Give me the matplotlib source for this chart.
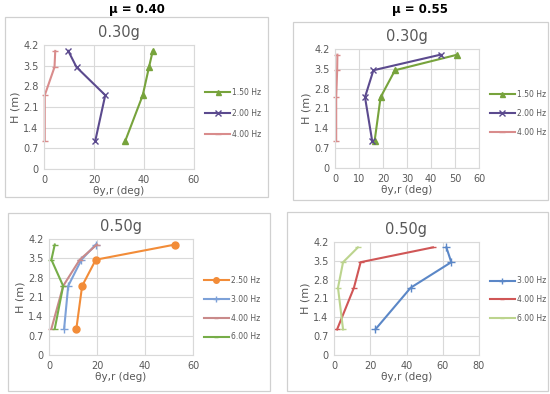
import matplotlib.pyplot as plt
from matplotlib.patches import Rectangle

plt.rcParams['font.family'] = ['DejaVu Sans']

heights = [0.95, 2.5, 3.45, 4.0]
yticks = [0, 0.7, 1.4, 2.1, 2.8, 3.5, 4.2]

# mu = 0.40, 0.30g
tl_labels = ['1.50 Hz', '2.00 Hz', '4.00 Hz']
tl_150 = [32.5, 39.5, 42.0, 43.5]
tl_200 = [20.5, 24.5, 13.0, 9.7]
tl_400 = [0.3, 0.3, 4.2, 4.5]

# mu = 0.55, 0.30g
tr_labels = ['1.50 Hz', '2.00 Hz', '4.00 Hz']
tr_150 = [16.5, 19.0, 25.0, 51.0]
tr_200 = [15.5, 12.5, 16.0, 44.0]
tr_400 = [0.5, 0.5, 0.9, 1.0]

# mu = 0.40, 0.50g
bl_labels = ['2.50 Hz', '3.00 Hz', '4.00 Hz', '6.00 Hz']
bl_250 = [11.4, 13.8, 19.5, 52.6]
bl_300 = [6.3, 8.0, 13.5, 19.5]
bl_400 = [1.0, 5.9, 12.8, 20.0]
bl_600 = [2.4, 5.9, 1.0, 2.4]

# mu = 0.55, 0.50g
br_labels = ['3.00 Hz', '4.00 Hz', '6.00 Hz']
br_300 = [22.8, 42.3, 64.7, 62.0]
br_400 = [1.7, 11.0, 14.7, 54.6]
br_600 = [5.0, 2.2, 5.0, 13.2]


def drawPanel(fig, rect, series, styles, labels, xticks, title, legend_y, spacing):
    ax = fig.add_axes(rect)
    for xs, st, lab in zip(series, styles, labels):
        ax.plot(xs, heights, color=st[0], marker=st[1], markersize=st[2],
                markeredgewidth=1.0, linewidth=1.5, label=lab, clip_on=False)
    ax.set_xlim(xticks[0], xticks[-1])
    ax.set_ylim(0, 4.2)
    ax.set_xticks(xticks)
    ax.set_yticks(yticks)
    ax.set_yticklabels([str(t) if t else '0' for t in yticks])
    ax.grid(True, color='#d9d9d9', linewidth=0.8)
    ax.set_axisbelow(True)
    for s in ax.spines.values():
        s.set_color('#d9d9d9')
    ax.tick_params(length=0, labelsize=7, colors='#595959', pad=4)
    ax.set_title(title, fontsize=10.5, color='#595959', pad=6)
    ax.set_xlabel('θy,r (deg)', fontsize=7.5, color='#595959', labelpad=1)
    ax.set_ylabel('H (m)', fontsize=8, color='#595959', labelpad=2)
    ax.legend(loc='center left', bbox_to_anchor=(1.03, legend_y), frameon=False,
              fontsize=5.5, handlelength=3.2, labelspacing=spacing,
              handletextpad=0.3, labelcolor='#595959', markerscale=0.8)
    return ax


fig = plt.figure(figsize=(5.5, 3.94), dpi=100)

W, H = 550.0, 394.0
for (x0, y0, x1, y1) in [(5, 17, 268, 197), (293, 22, 548, 200),
                         (8, 213, 270, 391), (287, 212, 548, 391)]:
    fig.patches.append(Rectangle((x0 / W, 1 - y1 / H), (x1 - x0) / W, (y1 - y0) / H,
                                 transform=fig.transFigure, fill=False,
                                 edgecolor='#d0d0d0', linewidth=0.9))

fig.text(137 / W, 1 - 9 / H, 'μ = 0.40', ha='center', va='center',
         fontsize=8.5, fontweight='bold')
fig.text(420 / W, 1 - 9 / H, 'μ = 0.55', ha='center', va='center',
         fontsize=8.5, fontweight='bold')

green = '#77a33c'
purple = '#5b4a8e'
pink = '#d98c8c'

drawPanel(fig, [44 / W, 1 - 169 / H, 150 / W, 124 / H],
          [tl_150, tl_200, tl_400],
          [(green, '^', 4.5), (purple, 'x', 5), (pink, '_', 5)],
          tl_labels, [0, 20, 40, 60], '0.30g', 0.45, 1.55)

drawPanel(fig, [335 / W, 1 - 168 / H, 144 / W, 119 / H],
          [tr_150, tr_200, tr_400],
          [(green, '^', 4.5), (purple, 'x', 5), (pink, '_', 5)],
          tr_labels, [0, 10, 20, 30, 40, 50, 60], '0.30g', 0.46, 1.3)

drawPanel(fig, [49 / W, 1 - 355 / H, 144 / W, 116 / H],
          [bl_250, bl_300, bl_400, bl_600],
          [('#f28c38', 'o', 5), ('#7da1d8', '+', 5.5), ('#c98a8a', '_', 4), ('#76ad48', '_', 4)],
          bl_labels, [0, 20, 40, 60], '0.50g', 0.40, 1.3)

drawPanel(fig, [334 / W, 1 - 355 / H, 145 / W, 113 / H],
          [br_300, br_400, br_600],
          [('#5b87c7', '+', 5.5), ('#d05656', '_', 4), ('#bcd48e', '_', 4)],
          br_labels, [0, 20, 40, 60, 80], '0.50g', 0.49, 1.3)

fig.savefig('out.png', dpi=100)
